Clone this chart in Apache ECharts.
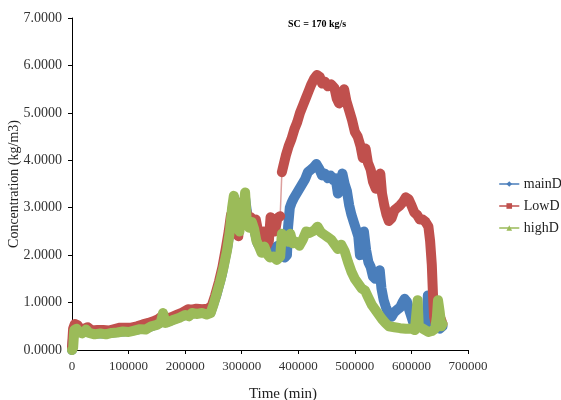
<!DOCTYPE html>
<html>
<head>
<meta charset="utf-8">
<script src="https://cdn.jsdelivr.net/npm/echarts@6/dist/echarts.min.js"></script>
<style>html,body{margin:0;padding:0;background:#fff;}#c{width:561px;height:400px;}</style>
</head>
<body>
<div id="c"></div>
<script>
// [time (min), concentration (kg/m3)]
const mainD = [
  [0,0],[3000,0.4],[10000,0.42],[25000,0.42],[40000,0.35],[60000,0.35],[80000,0.38],[100000,0.4],
  [120000,0.44],[140000,0.5],[160000,0.6],[170000,0.6],[190000,0.7],[210000,0.77],[230000,0.79],
  [245000,0.8],[255000,1.15],[265000,1.6],[275000,2.2],[283000,2.9],[287000,3.2],[292000,2.7],
  [298000,2.8],[306000,3.2],[312000,2.65],[320000,2.65],[328000,2.25],[336000,2.1],[345000,2.1],
  [352000,2.05],[358000,2.15],[364000,2.2],[370000,2.1],[376000,1.95],[380000,2.0],[382000,2.6],
  [385000,3.0],[388000,3.1],[392000,3.2],[397000,3.3],[402000,3.4],[407000,3.5],[412000,3.6],
  [417000,3.75],[422000,3.8],[427000,3.85],[432000,3.92],[437000,3.82],[442000,3.68],[447000,3.72],
  [452000,3.62],[457000,3.68],[462000,3.58],[466000,3.62],[470000,3.3],[474000,3.5],[478000,3.72],
  [482000,3.5],[486000,3.35],[490000,3.05],[494000,2.85],[498000,2.7],[502000,2.55],[506000,2.4],
  [509000,2.0],[512000,2.45],[516000,2.5],[520000,2.1],[524000,1.85],[528000,1.75],[532000,1.55],
  [536000,1.5],[540000,1.6],[544000,1.68],[547000,1.3],[551000,1.05],[555000,0.9],[560000,0.75],
  [565000,0.7],[570000,0.8],[575000,0.85],[580000,0.9],[584000,1.0],[588000,1.08],[592000,1.02],
  [596000,0.85],[600000,0.7],[604000,0.55],[610000,0.5],[620000,0.48],[627000,0.5],[629000,1.15],
  [631000,0.5],[640000,0.5],[650000,0.45],[655000,0.5]
];
const lowD_before = [
  [0,0.05],[2000,0.45],[5000,0.55],[10000,0.52],[15000,0.43],[22000,0.45],[28000,0.48],[35000,0.41],
  [45000,0.42],[55000,0.42],[65000,0.41],[75000,0.44],[85000,0.47],[95000,0.47],[105000,0.47],
  [115000,0.5],[125000,0.54],[135000,0.57],[145000,0.61],[152000,0.65],[160000,0.72],[166000,0.65],
  [175000,0.69],[185000,0.74],[195000,0.79],[205000,0.86],[212000,0.85],[220000,0.87],[230000,0.86],
  [240000,0.87],[247000,0.93],[253000,1.15],[260000,1.45],[266000,1.75],[272000,2.15],[277000,2.5],
  [281000,2.85],[285000,2.7],[288000,3.15],[291000,2.8],[294000,2.4],[297000,3.0],[300000,2.7],
  [304000,3.15],[307000,3.0],[311000,2.75],[316000,2.8],[320000,2.72],[325000,2.75],[329000,2.5],
  [334000,2.35],[339000,2.5],[344000,2.2],[348000,2.3],[351000,2.8],[355000,2.7],[359000,2.5],
  [363000,2.78],[368000,2.82]
];
const lowD_after = [
  [371000,3.75],[374000,3.9],[378000,4.1],[383000,4.3],[388000,4.45],[393000,4.65],[398000,4.8],
  [403000,5.0],[408000,5.15],[413000,5.3],[418000,5.45],[423000,5.6],[428000,5.72],[433000,5.8],
  [438000,5.76],[442000,5.62],[447000,5.66],[452000,5.56],[458000,5.6],[464000,5.52],[468000,5.3],
  [472000,5.2],[476000,5.38],[481000,5.5],[485000,5.25],[490000,5.05],[495000,4.85],[500000,4.6],
  [505000,4.5],[510000,4.3],[514000,4.05],[519000,4.25],[523000,3.95],[528000,3.8],[532000,3.55],
  [537000,3.4],[541000,3.6],[545000,3.72],[548000,3.3],[552000,3.05],[556000,2.85],[560000,2.72],
  [565000,2.78],[570000,2.95],[575000,3.0],[580000,3.05],[585000,3.12],[590000,3.22],[595000,3.18],
  [600000,3.05],[605000,2.9],[610000,2.85],[615000,2.75],[620000,2.75],[625000,2.7],[630000,2.6],
  [633000,2.3],[636000,1.8],[638000,1.2],[640000,0.7],[643000,0.55],[648000,0.6],[652000,0.65],
  [655000,0.55]
];
const highD = [
  [0,0],[2000,0.05],[4000,0.42],[8000,0.45],[12000,0.38],[18000,0.35],[25000,0.43],[30000,0.36],
  [40000,0.33],[50000,0.35],[60000,0.33],[70000,0.36],[80000,0.37],[90000,0.39],[100000,0.38],
  [110000,0.41],[120000,0.44],[130000,0.43],[140000,0.5],[150000,0.53],[157000,0.58],[161000,0.78],
  [165000,0.57],[172000,0.6],[180000,0.64],[190000,0.68],[200000,0.74],[207000,0.71],[212000,0.78],
  [220000,0.76],[230000,0.78],[238000,0.75],[245000,0.78],[250000,0.95],[256000,1.2],[262000,1.45],
  [268000,1.75],[274000,2.1],[279000,2.5],[283000,3.0],[286000,3.25],[289000,3.05],[291000,2.6],
  [293000,2.95],[296000,2.5],[299000,2.85],[303000,2.95],[306000,3.32],[309000,2.7],[313000,2.58],
  [318000,2.7],[322000,2.55],[326000,2.3],[330000,2.2],[335000,2.05],[340000,2.18],[345000,2.02],
  [350000,1.95],[356000,1.97],[362000,1.9],[368000,1.97],[371000,2.45],[376000,2.38],[382000,2.28],
  [386000,2.45],[390000,2.25],[396000,2.28],[402000,2.2],[408000,2.33],[414000,2.5],[420000,2.47],
  [428000,2.52],[434000,2.6],[440000,2.48],[446000,2.43],[452000,2.38],[458000,2.33],[464000,2.23],
  [470000,2.13],[476000,2.22],[482000,2.08],[488000,1.85],[494000,1.65],[500000,1.5],[506000,1.4],
  [512000,1.3],[518000,1.25],[524000,1.1],[530000,0.95],[536000,0.85],[542000,0.75],[548000,0.65],
  [554000,0.57],[560000,0.5],[570000,0.48],[580000,0.46],[590000,0.45],[600000,0.45],[606000,0.42],
  [609000,0.8],[611000,1.05],[613000,0.5],[620000,0.45],[630000,0.38],[636000,0.4],[642000,0.45],
  [645000,0.7],[647000,1.05],[650000,0.8],[653000,0.5],[655000,0.55]
];
const seriesNames = ['mainD','LowD','highD'];
const seriesColors = ['#4A7EBB','#C0504D','#9BBB59'];
const seriesSymbols = ['diamond','rect','triangle'];
const titleText = 'SC = 170 kg/s';
const xName = 'Time (min)';
const yName = 'Concentration (kg/m3)';

const font = 'Liberation Serif';
const chart = echarts.init(document.getElementById('c'), null, {renderer:'canvas'});
function mkLine(name, idx, data, width, opacity){
  return {
    name: name, type:'line', data: data, symbol: seriesSymbols[idx], showSymbol:false,
    color: seriesColors[idx], connectNulls:false, animation:false, silent:true,
    lineStyle:{color: seriesColors[idx], width: width, opacity: opacity, join:'round', cap:'round'},
    itemStyle:{color: seriesColors[idx]}
  };
}
const lowData = lowD_before.concat([[369500,'-']], lowD_after);
const lowJump = [lowD_before[lowD_before.length-1], lowD_after[0]];
const jumpSeries = mkLine('LowD', 1, lowJump, 1.5, 0.55);
jumpSeries.z = 1;
chart.setOption({
  animation:false,
  backgroundColor:'#fff',
  title:{text:titleText, left:283, top:14, textStyle:{fontFamily:font, fontSize:10, fontWeight:'bold', color:'#000'}},
  legend:{
    data: seriesNames, orient:'vertical', left:494, top:171, itemWidth:19, itemHeight:7, itemGap:6,
    lineStyle:{width:1.5}, textStyle:{fontFamily:font, fontSize:14, color:'#222', lineHeight:16}
  },
  grid:{left:72, right:93, top:18, bottom:50, containLabel:false, outerBoundsMode:'none'},
  xAxis:{
    type:'value', min:0, max:700000, interval:100000,
    name:xName, nameLocation:'middle', nameGap:37, nameMoveOverlap:false,
    nameTextStyle:{fontFamily:font, fontSize:15, color:'#222', padding:[0,0,0,26]},
    axisLine:{show:true, lineStyle:{color:'#000', width:1}},
    axisTick:{show:true, length:4, lineStyle:{color:'#000'}},
    axisLabel:{fontFamily:font, fontSize:13, color:'#333', margin:10, formatter:function(v){return String(v);}},
    splitLine:{show:false}
  },
  yAxis:{
    type:'value', min:0, max:7, interval:1,
    name:yName, nameLocation:'middle', nameGap:51, nameMoveOverlap:false,
    nameTextStyle:{fontFamily:font, fontSize:14, color:'#222'},
    axisLine:{show:true, lineStyle:{color:'#000', width:1}},
    axisTick:{show:true, length:4, lineStyle:{color:'#000'}},
    axisLabel:{fontFamily:font, fontSize:14, color:'#333', margin:10, formatter:function(v){return v.toFixed(4);}},
    splitLine:{show:false}
  },
  series:[
    mkLine('mainD', 0, mainD, 10, 1),
    mkLine('LowD', 1, lowData, 10, 1),
    jumpSeries,
    mkLine('highD', 2, highD, 10, 1)
  ]
});
</script>
</body>
</html>
